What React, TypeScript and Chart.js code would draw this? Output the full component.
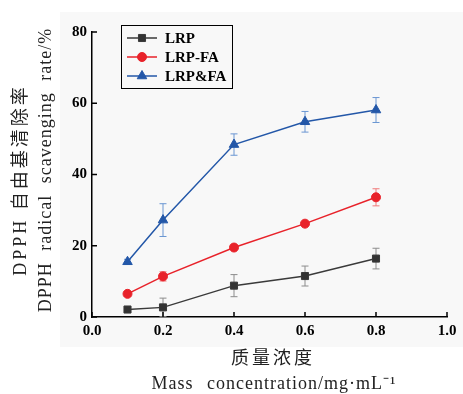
import React, { useEffect, useRef } from 'react';
import { Chart, registerables } from 'chart.js';
import { drawPoint } from 'chart.js/helpers';

Chart.register(...registerables);

const concentrations = [0.1, 0.2, 0.4, 0.6, 0.8];
const seriesNames = ['LRP', 'LRP-FA', 'LRP&FA'];
const lrp = [2.1, 2.7, 8.8, 11.5, 16.4];
const lrpErr = [0.4, 2.6, 3.1, 2.8, 2.9];
const lrpFa = [6.5, 11.4, 19.5, 26.2, 33.6];
const lrpFaErr = [0.6, 1.3, 0.5, 0.5, 2.4];
const lrpAndFa = [15.5, 27.2, 48.4, 54.8, 58.1];
const lrpAndFaErr = [0.7, 4.6, 3.0, 2.9, 3.5];
const xTicks = [0, 0.2, 0.4, 0.6, 0.8, 1.0];
const yTicks = [0, 20, 40, 60, 80];
const xTitle = ['质量浓度', 'Mass concentration/mg·mL⁻¹'];
const yTitle = ['DPPH 自由基清除率', 'DPPH radical scavenging rate/%'];

const SERIF = '"Liberation Serif", "Noto Sans CJK SC", serif';

const errorBarPlugin = {
  id: 'errorBars',
  beforeDatasetsDraw(chart: any) {
    const { ctx, scales } = chart;
    const x = scales.x, y = scales.y;
    chart.data.datasets.forEach((ds: any) => {
      ctx.save();
      ctx.strokeStyle = ds.errorColor;
      ctx.lineWidth = 1;
      ds.data.forEach((pt: any, j: number) => {
        const e = ds.errors[j];
        const px = x.getPixelForValue(pt.x);
        const top = y.getPixelForValue(pt.y + e);
        const bot = y.getPixelForValue(pt.y - e);
        ctx.beginPath();
        ctx.moveTo(px, top);
        ctx.lineTo(px, bot);
        ctx.moveTo(px - 3.5, top);
        ctx.lineTo(px + 3.5, top);
        ctx.moveTo(px - 3.5, bot);
        ctx.lineTo(px + 3.5, bot);
        ctx.stroke();
      });
      ctx.restore();
    });
  },
};

const innerTickPlugin = {
  id: 'innerTicks',
  afterDraw(chart: any) {
    const { ctx, chartArea, scales } = chart;
    ctx.save();
    ctx.strokeStyle = '#000';
    ctx.lineWidth = 1.5;
    ctx.beginPath();
    scales.x.ticks.forEach((t: any) => {
      const px = scales.x.getPixelForValue(t.value);
      ctx.moveTo(px, chartArea.bottom);
      ctx.lineTo(px, chartArea.bottom - 5);
    });
    scales.y.ticks.forEach((t: any) => {
      const py = scales.y.getPixelForValue(t.value);
      ctx.moveTo(chartArea.left, py);
      ctx.lineTo(chartArea.left + 5, py);
    });
    ctx.stroke();
    ctx.restore();
  },
};

const titlePlugin = {
  id: 'axisTitles',
  afterDraw(chart: any) {
    const { ctx } = chart;
    ctx.save();
    ctx.fillStyle = '#222';
    ctx.textAlign = 'center';
    ctx.textBaseline = 'middle';
    const yLines = [
      { text: yTitle[0], x: 21, y: 180, ls: '3px', ws: '0px' },
      { text: yTitle[1], x: 46, y: 170, ls: '1px', ws: '6px' },
    ];
    ctx.font = `18px ${SERIF}`;
    yLines.forEach((l) => {
      ctx.save();
      (ctx as any).letterSpacing = l.ls;
      (ctx as any).wordSpacing = l.ws;
      ctx.translate(l.x, l.y);
      ctx.rotate(-Math.PI / 2);
      ctx.fillText(l.text, 0, 0);
      ctx.restore();
    });
    const xLines = [
      { text: xTitle[0], x: 273, y: 359, ls: '3px', ws: '0px' },
      { text: xTitle[1], x: 274, y: 384, ls: '1px', ws: '8px' },
    ];
    xLines.forEach((l) => {
      ctx.save();
      (ctx as any).letterSpacing = l.ls;
      (ctx as any).wordSpacing = l.ws;
      ctx.fillText(l.text, l.x, l.y);
      ctx.restore();
    });
    ctx.restore();
  },
};

const legendPlugin = {
  id: 'boxLegend',
  afterDraw(chart: any) {
    const { ctx } = chart;
    const left = 121, top = 25, w = 111, h = 63;
    ctx.save();
    ctx.strokeStyle = '#000';
    ctx.lineWidth = 1;
    ctx.strokeRect(left + 0.5, top + 0.5, w, h);
    chart.data.datasets.forEach((ds: any, i: number) => {
      const cy = top + 13 + i * 19;
      ctx.strokeStyle = ds.borderColor;
      ctx.lineWidth = 1.5;
      ctx.beginPath();
      ctx.moveTo(left + 6, cy);
      ctx.lineTo(left + 36, cy);
      ctx.stroke();
      ctx.fillStyle = ds.backgroundColor;
      ctx.strokeStyle = ds.borderColor;
      ctx.lineWidth = 1;
      drawPoint(ctx, { pointStyle: ds.pointStyle, radius: ds.pointRadius, rotation: 0, borderWidth: 1 }, left + 21, cy);
      ctx.fillStyle = '#000';
      ctx.font = `bold 15px ${SERIF}`;
      ctx.textAlign = 'left';
      ctx.textBaseline = 'middle';
      ctx.fillText(ds.label, left + 44, cy + 1);
    });
    ctx.restore();
  },
};

export default function App() {
  const ref = useRef<HTMLCanvasElement>(null);
  useEffect(() => {
    const mk = (vals: number[]) => vals.map((v, i) => ({ x: concentrations[i], y: v }));
    const tickFont = { family: SERIF, size: 15, weight: 'bold' as const };
    const chart = new Chart(ref.current!, {
      type: 'line',
      data: {
        datasets: [
          {
            label: seriesNames[0], data: mk(lrp), errors: lrpErr, errorColor: '#8c8c8c',
            borderColor: '#3a3a3a', backgroundColor: '#333333', pointStyle: 'rect', pointRadius: 5,
            borderWidth: 1.5, pointBorderWidth: 1,
          } as any,
          {
            label: seriesNames[1], data: mk(lrpFa), errors: lrpFaErr, errorColor: '#f07a7a',
            borderColor: '#e8222a', backgroundColor: '#e8222a', pointStyle: 'circle', pointRadius: 4.5,
            borderWidth: 1.5, pointBorderWidth: 1,
          } as any,
          {
            label: seriesNames[2], data: mk(lrpAndFa), errors: lrpAndFaErr, errorColor: '#6a96d2',
            borderColor: '#2357a8', backgroundColor: '#2357a8', pointStyle: 'triangle', pointRadius: 5.5,
            borderWidth: 1.5, pointBorderWidth: 1,
          } as any,
        ],
      },
      options: {
        responsive: false,
        animation: false,
        layout: { padding: { left: 0, top: 32, right: 16, bottom: 0 } },
        plugins: { legend: { display: false }, tooltip: { enabled: false } },
        scales: {
          x: {
            type: 'linear', min: 0, max: 1,
            afterBuildTicks: (s: any) => { s.ticks = xTicks.map((v) => ({ value: v })); },
            afterFit: (s: any) => { s.height = 77; },
            ticks: {
              font: tickFont, color: '#000', padding: 5, maxRotation: 0, autoSkip: false,
              callback: (v: any) => Number(v).toFixed(1),
            },
            grid: { display: false, drawTicks: false },
            border: { display: true, color: '#000', width: 1.5 },
          },
          y: {
            type: 'linear', min: 0, max: 80,
            afterBuildTicks: (s: any) => { s.ticks = yTicks.map((v) => ({ value: v })); },
            afterFit: (s: any) => { s.width = 92; },
            ticks: { font: tickFont, color: '#000', padding: 5, autoSkip: false },
            grid: { display: false, drawTicks: false },
            border: { display: true, color: '#000', width: 1.5 },
          },
        },
      },
      plugins: [errorBarPlugin, innerTickPlugin, titlePlugin, legendPlugin],
    });
    return () => chart.destroy();
  }, []);
  return (
    <div style={{ position: 'absolute', left: 0, top: 0, width: 463, height: 394, background: '#fff' }}>
      <div style={{ position: 'absolute', left: 60, top: 12, width: 403, height: 335, background: '#f8f8f8' }} />
      <canvas ref={ref} width={463} height={394} style={{ position: 'absolute', left: 0, top: 0 }} />
    </div>
  );
}
